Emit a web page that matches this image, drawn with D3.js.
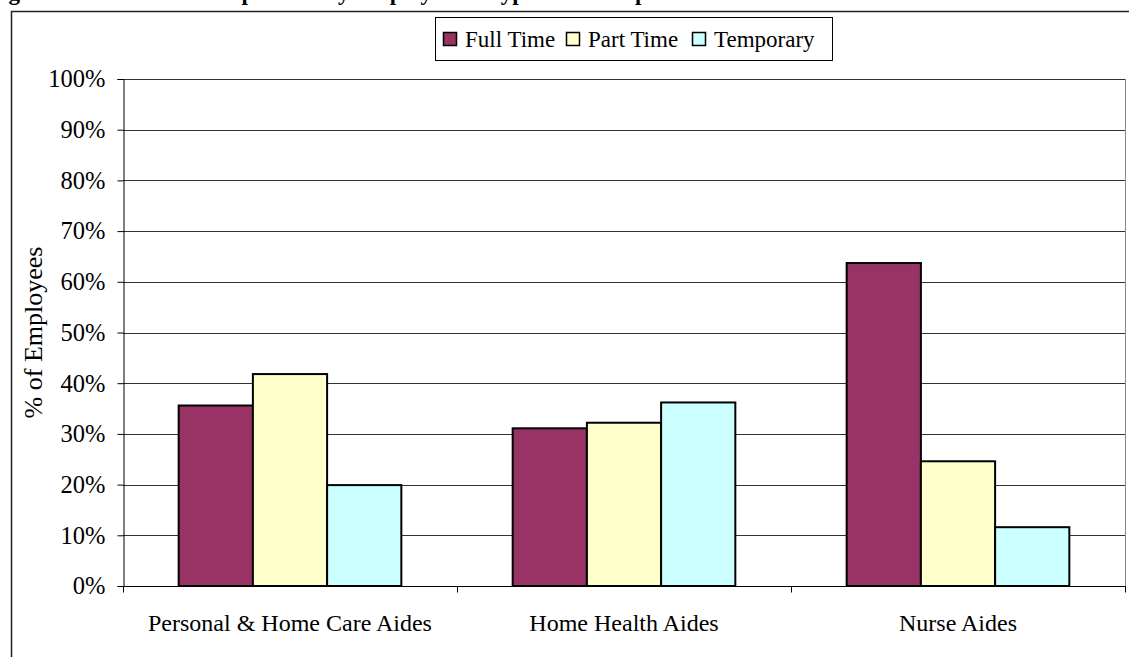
<!DOCTYPE html>
<html>
<head>
<meta charset="utf-8">
<script src="https://cdn.jsdelivr.net/npm/d3@7"></script>
<style>
  body { margin: 0; background: #fff; }
  text { font-family: "Liberation Serif", "Times New Roman", serif; fill: #000; }
</style>
</head>
<body>
<div class="canva"></div>
<script>
// chart values
const categories = ['Personal & Home Care Aides', 'Home Health Aides', 'Nurse Aides'];
const seriesNames = ['Full Time', 'Part Time', 'Temporary'];
const fullTime = [35.6, 31.1, 63.7];
const partTime = [41.8, 32.2, 24.6];
const temporary = [19.9, 36.2, 11.6];
const yTicks = [0, 10, 20, 30, 40, 50, 60, 70, 80, 90, 100];
const colors = ['#993366', '#FFFFCC', '#CCFFFF'];
const titleText = 'Figure 5: Workforce Composition by Employment Type and Occupation';

const seriesValues = [fullTime, partTime, temporary];

const svg = d3.select('.canva').append('svg')
              .attr('width', 1129)
              .attr('height', 657);

// plot area box
const plot = {left: 123, right: 1125, top: 79, bottom: 586};

// title, cut off at top of picture
svg.append('text')
   .attr('x', -12)
   .attr('y', 0)
   .style('font-weight', 'bold')
   .style('font-size', '23px')
   .text(titleText);

// outer chart border (only top and left visible)
svg.append('path')
   .attr('d', 'M11.5,1000 L11.5,11.5 L1140,11.5')
   .attr('fill', 'none')
   .attr('stroke', '#222')
   .attr('stroke-width', 1.5);

const y = d3.scaleLinear()
            .domain([0, 100])
            .range([plot.bottom, plot.top]);

const x = d3.scaleBand()
            .domain(categories)
            .range([plot.left, plot.right])
            .padding(0);

const xInner = d3.scaleBand()
                 .domain(seriesNames)
                 .range([0, x.bandwidth()])
                 .paddingInner(0)
                 .paddingOuter(0.75);

// gridlines
svg.append('g')
   .selectAll('line')
   .data(yTicks.filter(d => d > 0))
   .enter().append('line')
   .attr('x1', plot.left)
   .attr('x2', plot.right)
   .attr('y1', d => Math.round(y(d)) + 0.5)
   .attr('y2', d => Math.round(y(d)) + 0.5)
   .attr('stroke', '#333')
   .attr('stroke-width', 1);

// right border of plot area
svg.append('line')
   .attr('x1', plot.right + 0.5).attr('x2', plot.right + 0.5)
   .attr('y1', plot.top).attr('y2', plot.bottom)
   .attr('stroke', '#888');

// bars
const groups = svg.append('g')
   .selectAll('g')
   .data(categories)
   .enter().append('g')
   .attr('transform', d => `translate(${x(d)},0)`);

groups.selectAll('rect')
   .data((d, i) => seriesNames.map((s, j) => ({series: s, value: seriesValues[j][i], color: colors[j]})))
   .enter().append('rect')
   .attr('x', d => xInner(d.series))
   .attr('y', d => y(d.value))
   .attr('width', xInner.bandwidth())
   .attr('height', d => y(0) - y(d.value))
   .attr('fill', d => d.color)
   .attr('stroke', '#000')
   .attr('stroke-width', 2);

// axes
const yAxis = d3.axisLeft(y)
                .tickValues(yTicks)
                .tickFormat(d => d + '%')
                .tickSize(6)
                .tickPadding(12);
const yAxisGroup = svg.append('g')
   .attr('transform', `translate(${plot.left + 0.5},0)`)
   .call(yAxis);
yAxisGroup.select('.domain').attr('stroke', '#000');
yAxisGroup.selectAll('text')
   .style('font-size', '24.5px')
   .style('font-family', '"Liberation Serif", serif');

const xAxisGroup = svg.append('g')
   .attr('transform', `translate(0,${plot.bottom + 0.5})`);
xAxisGroup.append('line')
   .attr('x1', plot.left).attr('x2', plot.right + 1)
   .attr('stroke', '#000');
const boundaries = categories.map(c => x(c)).concat([plot.right]);
xAxisGroup.selectAll('.tick')
   .data(boundaries)
   .enter().append('line')
   .attr('class', 'tick')
   .attr('x1', d => Math.round(d) + 0.5)
   .attr('x2', d => Math.round(d) + 0.5)
   .attr('y1', 0).attr('y2', 6)
   .attr('stroke', '#000');
xAxisGroup.selectAll('.cat')
   .data(categories)
   .enter().append('text')
   .attr('class', 'cat')
   .attr('x', d => x(d) + x.bandwidth() / 2)
   .attr('y', 44)
   .attr('text-anchor', 'middle')
   .style('font-size', '24px')
   .text(d => d);

// y axis title
svg.append('text')
   .attr('transform', `translate(42,${(plot.top + plot.bottom) / 2}) rotate(-90)`)
   .attr('text-anchor', 'middle')
   .style('font-size', '26px')
   .text('% of Employees');

// legend
const legend = svg.append('g').attr('transform', 'translate(435,17)');
legend.append('rect')
   .attr('x', 0.5).attr('y', 0.5)
   .attr('width', 397).attr('height', 43)
   .attr('fill', '#fff')
   .attr('stroke', '#000');
const legendX = [8, 131, 257];
const items = legend.selectAll('.item')
   .data(seriesNames)
   .enter().append('g')
   .attr('class', 'item')
   .attr('transform', (d, i) => `translate(${legendX[i]},0)`);
items.append('rect')
   .attr('x', 0.5).attr('y', 15.5)
   .attr('width', 13).attr('height', 13)
   .attr('fill', (d, i) => colors[i])
   .attr('stroke', '#000')
   .attr('stroke-width', 1.5);
items.append('text')
   .attr('x', 22)
   .attr('y', 30)
   .style('font-size', '23px')
   .text(d => d);
</script>
</body>
</html>
